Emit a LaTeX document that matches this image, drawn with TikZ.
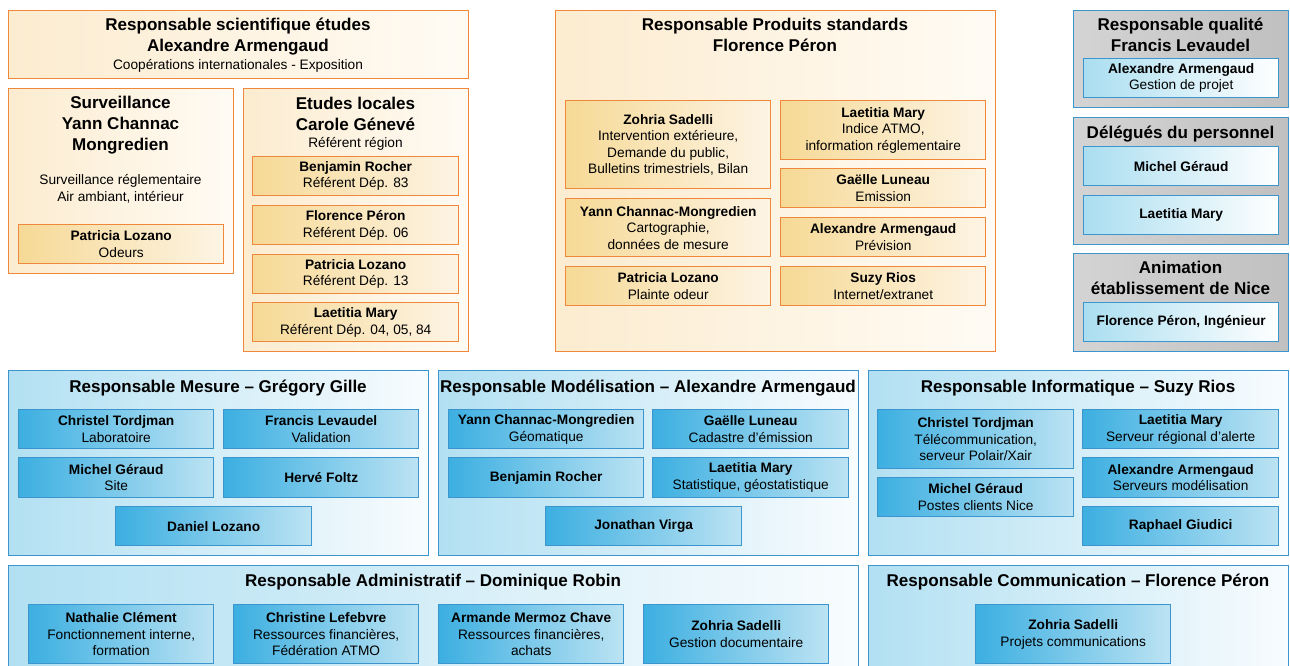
\documentclass[tikz,border=0pt]{standalone}
\usepackage{fontspec}
\setmainfont{Liberation Sans}
\usepackage{tikz}

\definecolor{orline}{RGB}{240,136,60}
\definecolor{orouterl}{RGB}{252,236,208}
\definecolor{orouterr}{RGB}{255,251,244}
\definecolor{orinnerl}{RGB}{246,217,150}
\definecolor{orinnerr}{RGB}{253,244,228}
\definecolor{blline}{RGB}{60,150,205}
\definecolor{blouterl}{RGB}{178,224,242}
\definecolor{blouterr}{RGB}{248,252,254}
\definecolor{blinnerl}{RGB}{60,175,225}
\definecolor{blinnerr}{RGB}{188,227,243}
\definecolor{palel}{RGB}{170,222,240}
\definecolor{grl}{RGB}{212,212,212}
\definecolor{grm}{RGB}{228,228,228}
\definecolor{grr}{RGB}{192,192,192}

\newcommand{\headfont}{\fontsize{9.7}{12}\selectfont\bfseries}
\newcommand{\cellfont}{\fontsize{7.8}{9.4}\selectfont}

\begin{document}
\begin{tikzpicture}[
    box/.style={draw, rectangle, line width=0.8pt, anchor=north west, inner sep=1pt, align=center, font=\cellfont},
    outerorange/.style={box, draw=orline, left color=orouterl, right color=orouterr},
    innerorange/.style={box, draw=orline, left color=orinnerl, right color=orinnerr},
    outerblue/.style={box, draw=blline, left color=blouterl, right color=blouterr},
    innerblue/.style={box, draw=blline, left color=blinnerl, right color=blinnerr},
    outergray/.style={box, draw=blline, left color=grl, middle color=grm, right color=grr},
    innerpale/.style={box, draw=blline, left color=palel, right color=white},
    head/.style={anchor=base, align=center, inner sep=0pt, font=\headfont},
    sub/.style={anchor=base, align=center, inner sep=0pt, font=\cellfont},
    boxsize/.style 2 args={minimum width=#1cm, minimum height=#2cm}
]
    \useasboundingbox (0,0) rectangle (25.8,-13.32);

    % scientifique
    \node (sci) [outerorange, boxsize={9.2}{1.36}] at (0.16,-0.2) {};
    \node (scihead) [head] at (4.76,-1.04) {Responsable scientifique études\\Alexandre Armengaud};
    \node (scisub) [sub] at (4.76,-1.40) {Coopérations internationales - Exposition};

    % surveillance
    \node (surv) [outerorange, boxsize={4.5}{3.7}] at (0.16,-1.76) {};
    \node (survhead) [head] at (2.41,-3.02) {Surveillance\\Yann Channac\\Mongredien};
    \node (survsub) [sub] at (2.41,-4.03) {Surveillance réglementaire\\Air ambiant, intérieur};
    \node (survlozano) [innerorange, boxsize={4.1}{0.78}] at (0.36,-4.48) {\textbf{Patricia Lozano}\\Odeurs};

    % etudes locales
    \node (etudes) [outerorange, boxsize={4.5}{5.26}] at (4.86,-1.76) {};
    \node (etudeshead) [head] at (7.11,-2.62) {Etudes locales\\Carole Génevé};
    \node (etudessub) [sub] at (7.11,-2.96) {Référent région};
    \node (etrocher) [innerorange, boxsize={4.12}{0.78}] at (5.04,-3.12) {\textbf{Benjamin Rocher}\\Référent Dép. 83};
    \node (etperon) [innerorange, boxsize={4.12}{0.78}] at (5.04,-4.10) {\textbf{Florence Péron}\\Référent Dép. 06};
    \node (etlozano) [innerorange, boxsize={4.12}{0.78}] at (5.04,-5.08) {\textbf{Patricia Lozano}\\Référent Dép. 13};
    \node (etmary) [innerorange, boxsize={4.12}{0.78}] at (5.04,-6.04) {\textbf{Laetitia Mary}\\Référent Dép. 04, 05, 84};

    % produits standards
    \node (prod) [outerorange, boxsize={8.8}{6.82}] at (11.1,-0.2) {};
    \node (prodhead) [head] at (15.5,-1.04) {Responsable Produits standards\\Florence Péron};
    \node (prsadelli) [innerorange, boxsize={4.1}{1.76}] at (11.3,-2.0) {\textbf{Zohria Sadelli}\\Intervention extérieure,\\Demande du public,\\Bulletins trimestriels, Bilan};
    \node (prchannac) [innerorange, boxsize={4.1}{1.16}] at (11.3,-3.96) {\textbf{Yann Channac-Mongredien}\\Cartographie,\\données de mesure};
    \node (prlozano) [innerorange, boxsize={4.1}{0.78}] at (11.3,-5.32) {\textbf{Patricia Lozano}\\Plainte odeur};
    \node (prmary) [innerorange, boxsize={4.1}{1.18}] at (15.6,-2.0) {\textbf{Laetitia Mary}\\Indice ATMO,\\information réglementaire};
    \node (prluneau) [innerorange, boxsize={4.1}{0.78}] at (15.6,-3.36) {\textbf{Gaëlle Luneau}\\Emission};
    \node (prarmengaud) [innerorange, boxsize={4.1}{0.78}] at (15.6,-4.34) {\textbf{Alexandre Armengaud}\\Prévision};
    \node (prrios) [innerorange, boxsize={4.1}{0.78}] at (15.6,-5.32) {\textbf{Suzy Rios}\\Internet/extranet};

    % qualite, delegues, animation
    \node (qual) [outergray, boxsize={4.3}{1.94}] at (21.46,-0.2) {};
    \node (qualhead) [head] at (23.61,-1.04) {Responsable qualité\\Francis Levaudel};
    \node (qualarmengaud) [innerpale, boxsize={3.9}{0.78}] at (21.66,-1.16) {\textbf{Alexandre Armengaud}\\Gestion de projet};

    \node (deleg) [outergray, boxsize={4.3}{2.54}] at (21.46,-2.34) {};
    \node (deleghead) [head] at (23.61,-2.78) {Délégués du personnel};
    \node (delgeraud) [innerpale, boxsize={3.9}{0.78}] at (21.66,-2.92) {\textbf{Michel Géraud}};
    \node (delmary) [innerpale, boxsize={3.9}{0.78}] at (21.66,-3.9) {\textbf{Laetitia Mary}};

    \node (anim) [outergray, boxsize={4.3}{1.96}] at (21.46,-5.06) {};
    \node (animhead) [head] at (23.61,-5.9) {Animation\\établissement de Nice};
    \node (animperon) [innerpale, boxsize={3.9}{0.78}] at (21.66,-6.04) {\textbf{Florence Péron, Ingénieur}};

    % mesure
    \node (mes) [outerblue, boxsize={8.4}{3.7}] at (0.16,-7.4) {};
    \node (meshead) [head] at (4.36,-7.86) {Responsable Mesure – Grégory Gille};
    \node (mestordjman) [innerblue, boxsize={3.9}{0.78}] at (0.36,-8.18) {\textbf{Christel Tordjman}\\Laboratoire};
    \node (meslevaudel) [innerblue, boxsize={3.9}{0.78}] at (4.46,-8.18) {\textbf{Francis Levaudel}\\Validation};
    \node (mesgeraud) [innerblue, boxsize={3.9}{0.8}] at (0.36,-9.14) {\textbf{Michel Géraud}\\Site};
    \node (mesfoltz) [innerblue, boxsize={3.9}{0.8}] at (4.46,-9.14) {\textbf{Hervé Foltz}};
    \node (meslozano) [innerblue, boxsize={3.92}{0.78}] at (2.3,-10.12) {\textbf{Daniel Lozano}};

    % modelisation
    \node (mod) [outerblue, boxsize={8.4}{3.7}] at (8.76,-7.4) {};
    \node (modhead) [head] at (12.96,-7.86) {Responsable Modélisation – Alexandre Armengaud};
    \node (modchannac) [innerblue, boxsize={3.9}{0.78}] at (8.96,-8.18) {\textbf{Yann Channac-Mongredien}\\Géomatique};
    \node (modluneau) [innerblue, boxsize={3.92}{0.78}] at (13.04,-8.18) {\textbf{Gaëlle Luneau}\\Cadastre d'émission};
    \node (modrocher) [innerblue, boxsize={3.9}{0.8}] at (8.96,-9.14) {\textbf{Benjamin Rocher}};
    \node (modmary) [innerblue, boxsize={3.92}{0.8}] at (13.04,-9.14) {\textbf{Laetitia Mary}\\Statistique, géostatistique};
    \node (modvirga) [innerblue, boxsize={3.92}{0.78}] at (10.9,-10.12) {\textbf{Jonathan Virga}};

    % informatique
    \node (info) [outerblue, boxsize={8.4}{3.7}] at (17.36,-7.4) {};
    \node (infohead) [head] at (21.56,-7.86) {Responsable Informatique – Suzy Rios};
    \node (inftordjman) [innerblue, boxsize={3.92}{1.18}] at (17.54,-8.18) {\textbf{Christel Tordjman}\\Télécommunication,\\serveur Polair/Xair};
    \node (infgeraud) [innerblue, boxsize={3.92}{0.78}] at (17.54,-9.54) {\textbf{Michel Géraud}\\Postes clients Nice};
    \node (infmary) [innerblue, boxsize={3.92}{0.78}] at (21.64,-8.18) {\textbf{Laetitia Mary}\\Serveur régional d'alerte};
    \node (infarmengaud) [innerblue, boxsize={3.92}{0.8}] at (21.64,-9.14) {\textbf{Alexandre Armengaud}\\Serveurs modélisation};
    \node (infgiudici) [innerblue, boxsize={3.92}{0.78}] at (21.64,-10.12) {\textbf{Raphael Giudici}};

    % administratif
    \node (adm) [outerblue, boxsize={17.0}{2.3}] at (0.16,-11.3) {};
    \node (admhead) [head] at (8.66,-11.74) {Responsable Administratif – Dominique Robin};
    \node (admclement) [innerblue, boxsize={3.7}{1.18}] at (0.56,-12.08) {\textbf{Nathalie Clément}\\Fonctionnement interne,\\formation};
    \node (admlefebvre) [innerblue, boxsize={3.7}{1.18}] at (4.66,-12.08) {\textbf{Christine Lefebvre}\\Ressources financières,\\Fédération ATMO};
    \node (admchave) [innerblue, boxsize={3.7}{1.18}] at (8.76,-12.08) {\textbf{Armande Mermoz Chave}\\Ressources financières,\\achats};
    \node (admsadelli) [innerblue, boxsize={3.7}{1.18}] at (12.86,-12.08) {\textbf{Zohria Sadelli}\\Gestion documentaire};

    % communication
    \node (com) [outerblue, boxsize={8.4}{2.3}] at (17.36,-11.3) {};
    \node (comhead) [head] at (21.56,-11.74) {Responsable Communication – Florence Péron};
    \node (comsadelli) [innerblue, boxsize={3.9}{1.18}] at (19.5,-12.08) {\textbf{Zohria Sadelli}\\Projets communications};
\end{tikzpicture}
\end{document}
